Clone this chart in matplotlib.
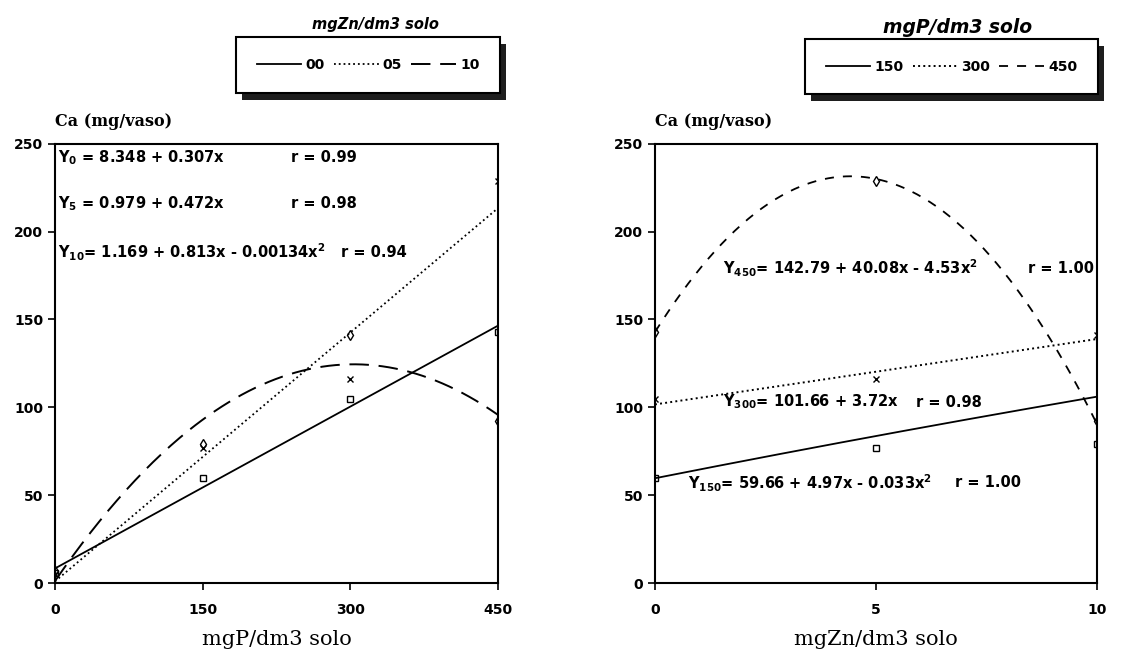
import numpy as np
import matplotlib
matplotlib.use("Agg")
import matplotlib.pyplot as plt
from matplotlib.patches import Rectangle

plt.rcParams['font.family'] = 'DejaVu Sans'
plt.rcParams['font.weight'] = 'bold'
plt.rcParams['mathtext.default'] = 'bf'

p_doses = [0, 150, 300, 450]
ca_zn0 = [6, 60, 105, 143]
ca_zn5 = [5, 77, 116, 229]
ca_zn10 = [7, 79, 141, 92]
zn_doses = [0, 5, 10]

# regression coefficients printed on the chart (c0, c1, c2)
coef_zn0 = [8.348, 0.307, 0.0]
coef_zn5 = [0.979, 0.472, 0.0]
coef_zn10 = [1.169, 0.813, -0.00134]
coef_p150 = [59.66, 4.97, -0.033]
coef_p300 = [101.66, 3.72, 0.0]
coef_p450 = [142.79, 40.08, -4.53]

left_eqs = [r'$Y_0$ = 8.348 + 0.307x', r'$Y_5$ = 0.979 + 0.472x',
            r'$Y_{10}$= 1.169 + 0.813x - 0.00134x$^2$']
left_rs = ['r = 0.99', 'r = 0.98', 'r = 0.94']
right_eqs = [r'$Y_{450}$= 142.79 + 40.08x - 4.53x$^2$',
             r'$Y_{300}$= 101.66 + 3.72x', r'$Y_{150}$= 59.66 + 4.97x - 0.033x$^2$']
right_rs = ['r = 1.00', 'r = 0.98', 'r = 1.00']


def curve(c, x):
    return c[0] + c[1] * x + c[2] * x ** 2


fig = plt.figure(figsize=(11.45, 6.53), dpi=100)
ax1 = fig.add_axes([0.048, 0.107, 0.387, 0.673])
ax2 = fig.add_axes([0.572, 0.107, 0.386, 0.673])

# ---- left panel: Ca vs P
xs = np.linspace(0, 450, 200)
l0, = ax1.plot(xs, curve(coef_zn0, xs), color='k', lw=1.3, ls='-')
l5, = ax1.plot(xs, curve(coef_zn5, xs), color='k', lw=1.3, ls=':')
l10, = ax1.plot(xs, curve(coef_zn10, xs), color='k', lw=1.4, dashes=(10, 5))
ax1.plot(p_doses, ca_zn0, ls='none', marker='s', mfc='none', mec='k', ms=5, mew=1)
ax1.plot(p_doses, ca_zn5, ls='none', marker='x', color='k', ms=5, mew=1)
ax1.plot(p_doses, ca_zn10, ls='none', marker='d', mfc='none', mec='k', ms=5, mew=1)

ax1.set_xlim(0, 450)
ax1.set_xticks([0, 150, 300, 450])
ax1.set_xlabel('mgP/dm3 solo', family='DejaVu Serif', fontsize=15,
               fontweight='normal', labelpad=10)

ys = [242, 216, 188]
xr = [240, 240, 290]
for t, r, y, x in zip(left_eqs, left_rs, ys, xr):
    ax1.text(3, y, t, fontsize=10.5, va='center')
    ax1.text(x, y, r, fontsize=10.5, va='center')

# ---- right panel: Ca vs Zn
xz = np.linspace(0, 10, 200)
r150, = ax2.plot(xz, curve(coef_p150, xz), color='k', lw=1.3, ls='-')
r300, = ax2.plot(xz, curve(coef_p300, xz), color='k', lw=1.4, ls=':')
r450, = ax2.plot(xz, curve(coef_p450, xz), color='k', lw=1.3, dashes=(5, 5))
ax2.plot(zn_doses, [ca_zn0[1], ca_zn5[1], ca_zn10[1]], ls='none', marker='s',
         mfc='none', mec='k', ms=5, mew=1)
ax2.plot(zn_doses, [ca_zn0[2], ca_zn5[2], ca_zn10[2]], ls='none', marker='x',
         color='k', ms=5, mew=1)
ax2.plot(zn_doses, [ca_zn0[3], ca_zn5[3], ca_zn10[3]], ls='none', marker='d',
         mfc='none', mec='k', ms=5, mew=1)

ax2.set_xlim(0, 10)
ax2.set_xticks([0, 5, 10])
ax2.set_xlabel('mgZn/dm3 solo', family='DejaVu Serif', fontsize=15,
               fontweight='normal', labelpad=10)

ax2.text(1.55, 179, right_eqs[0], fontsize=10.5, va='center')
ax2.text(8.45, 179, right_rs[0], fontsize=10.5, va='center')
ax2.text(1.55, 103, right_eqs[1], fontsize=10.5, va='center')
ax2.text(5.9, 103, right_rs[1], fontsize=10.5, va='center')
ax2.text(0.75, 57, right_eqs[2], fontsize=10.5, va='center')
ax2.text(6.8, 57, right_rs[2], fontsize=10.5, va='center')

for ax in (ax1, ax2):
    ax.set_ylim(0, 250)
    ax.set_yticks([0, 50, 100, 150, 200, 250])
    ax.tick_params(direction='out', length=5, width=1.2, labelsize=10)
    ax.tick_params(axis='x', pad=9)
    for lab in ax.get_xticklabels() + ax.get_yticklabels():
        lab.set_fontweight('bold')
    for s in ax.spines.values():
        s.set_linewidth(1.5)
    ax.text(0, 1.03, 'Ca (mg/vaso)', transform=ax.transAxes, fontsize=11.5,
            family='DejaVu Serif', fontweight='bold', ha='left', va='bottom')

# ---- legends with drop shadows
leg1 = fig.legend([l0, l5, l10], ['00', '05', '10'], ncol=3, loc='center',
                  bbox_to_anchor=(0.200, 0.859, 0.243, 0.083), mode='expand',
                  frameon=True, fancybox=False, framealpha=1, edgecolor='k',
                  handlelength=3.2, handletextpad=0.3, columnspacing=3.0,
                  borderpad=1.5, prop={'weight': 'bold', 'size': 10})
leg2 = fig.legend([r150, r300, r450], ['150', '300', '450'], ncol=3, loc='center',
                  bbox_to_anchor=(0.697, 0.856, 0.268, 0.084), mode='expand',
                  frameon=True, fancybox=False, framealpha=1, edgecolor='k',
                  handlelength=3.2, handletextpad=0.3, columnspacing=3.0,
                  borderpad=1.5, prop={'weight': 'bold', 'size': 10})
for leg in (leg1, leg2):
    leg.get_frame().set_linewidth(1.5)

fig.text(0.328, 0.962, 'mgZn/dm3 solo', ha='center', va='center', fontsize=10.5,
         fontweight='bold', style='italic')
fig.text(0.836, 0.958, 'mgP/dm3 solo', ha='center', va='center', fontsize=13.5,
         fontweight='bold', style='italic')

fig.canvas.draw()
W, H = fig.get_size_inches() * fig.dpi
for leg in (leg1, leg2):
    bb = leg.get_window_extent()
    sh = Rectangle(((bb.x0 + 6) / W, (bb.y0 - 7) / H), bb.width / W, bb.height / H,
                   transform=fig.transFigure, facecolor='#1e1e1e', edgecolor='none',
                   zorder=leg.get_zorder() - 1)
    fig.add_artist(sh)

fig.savefig('out.png', dpi=100)
